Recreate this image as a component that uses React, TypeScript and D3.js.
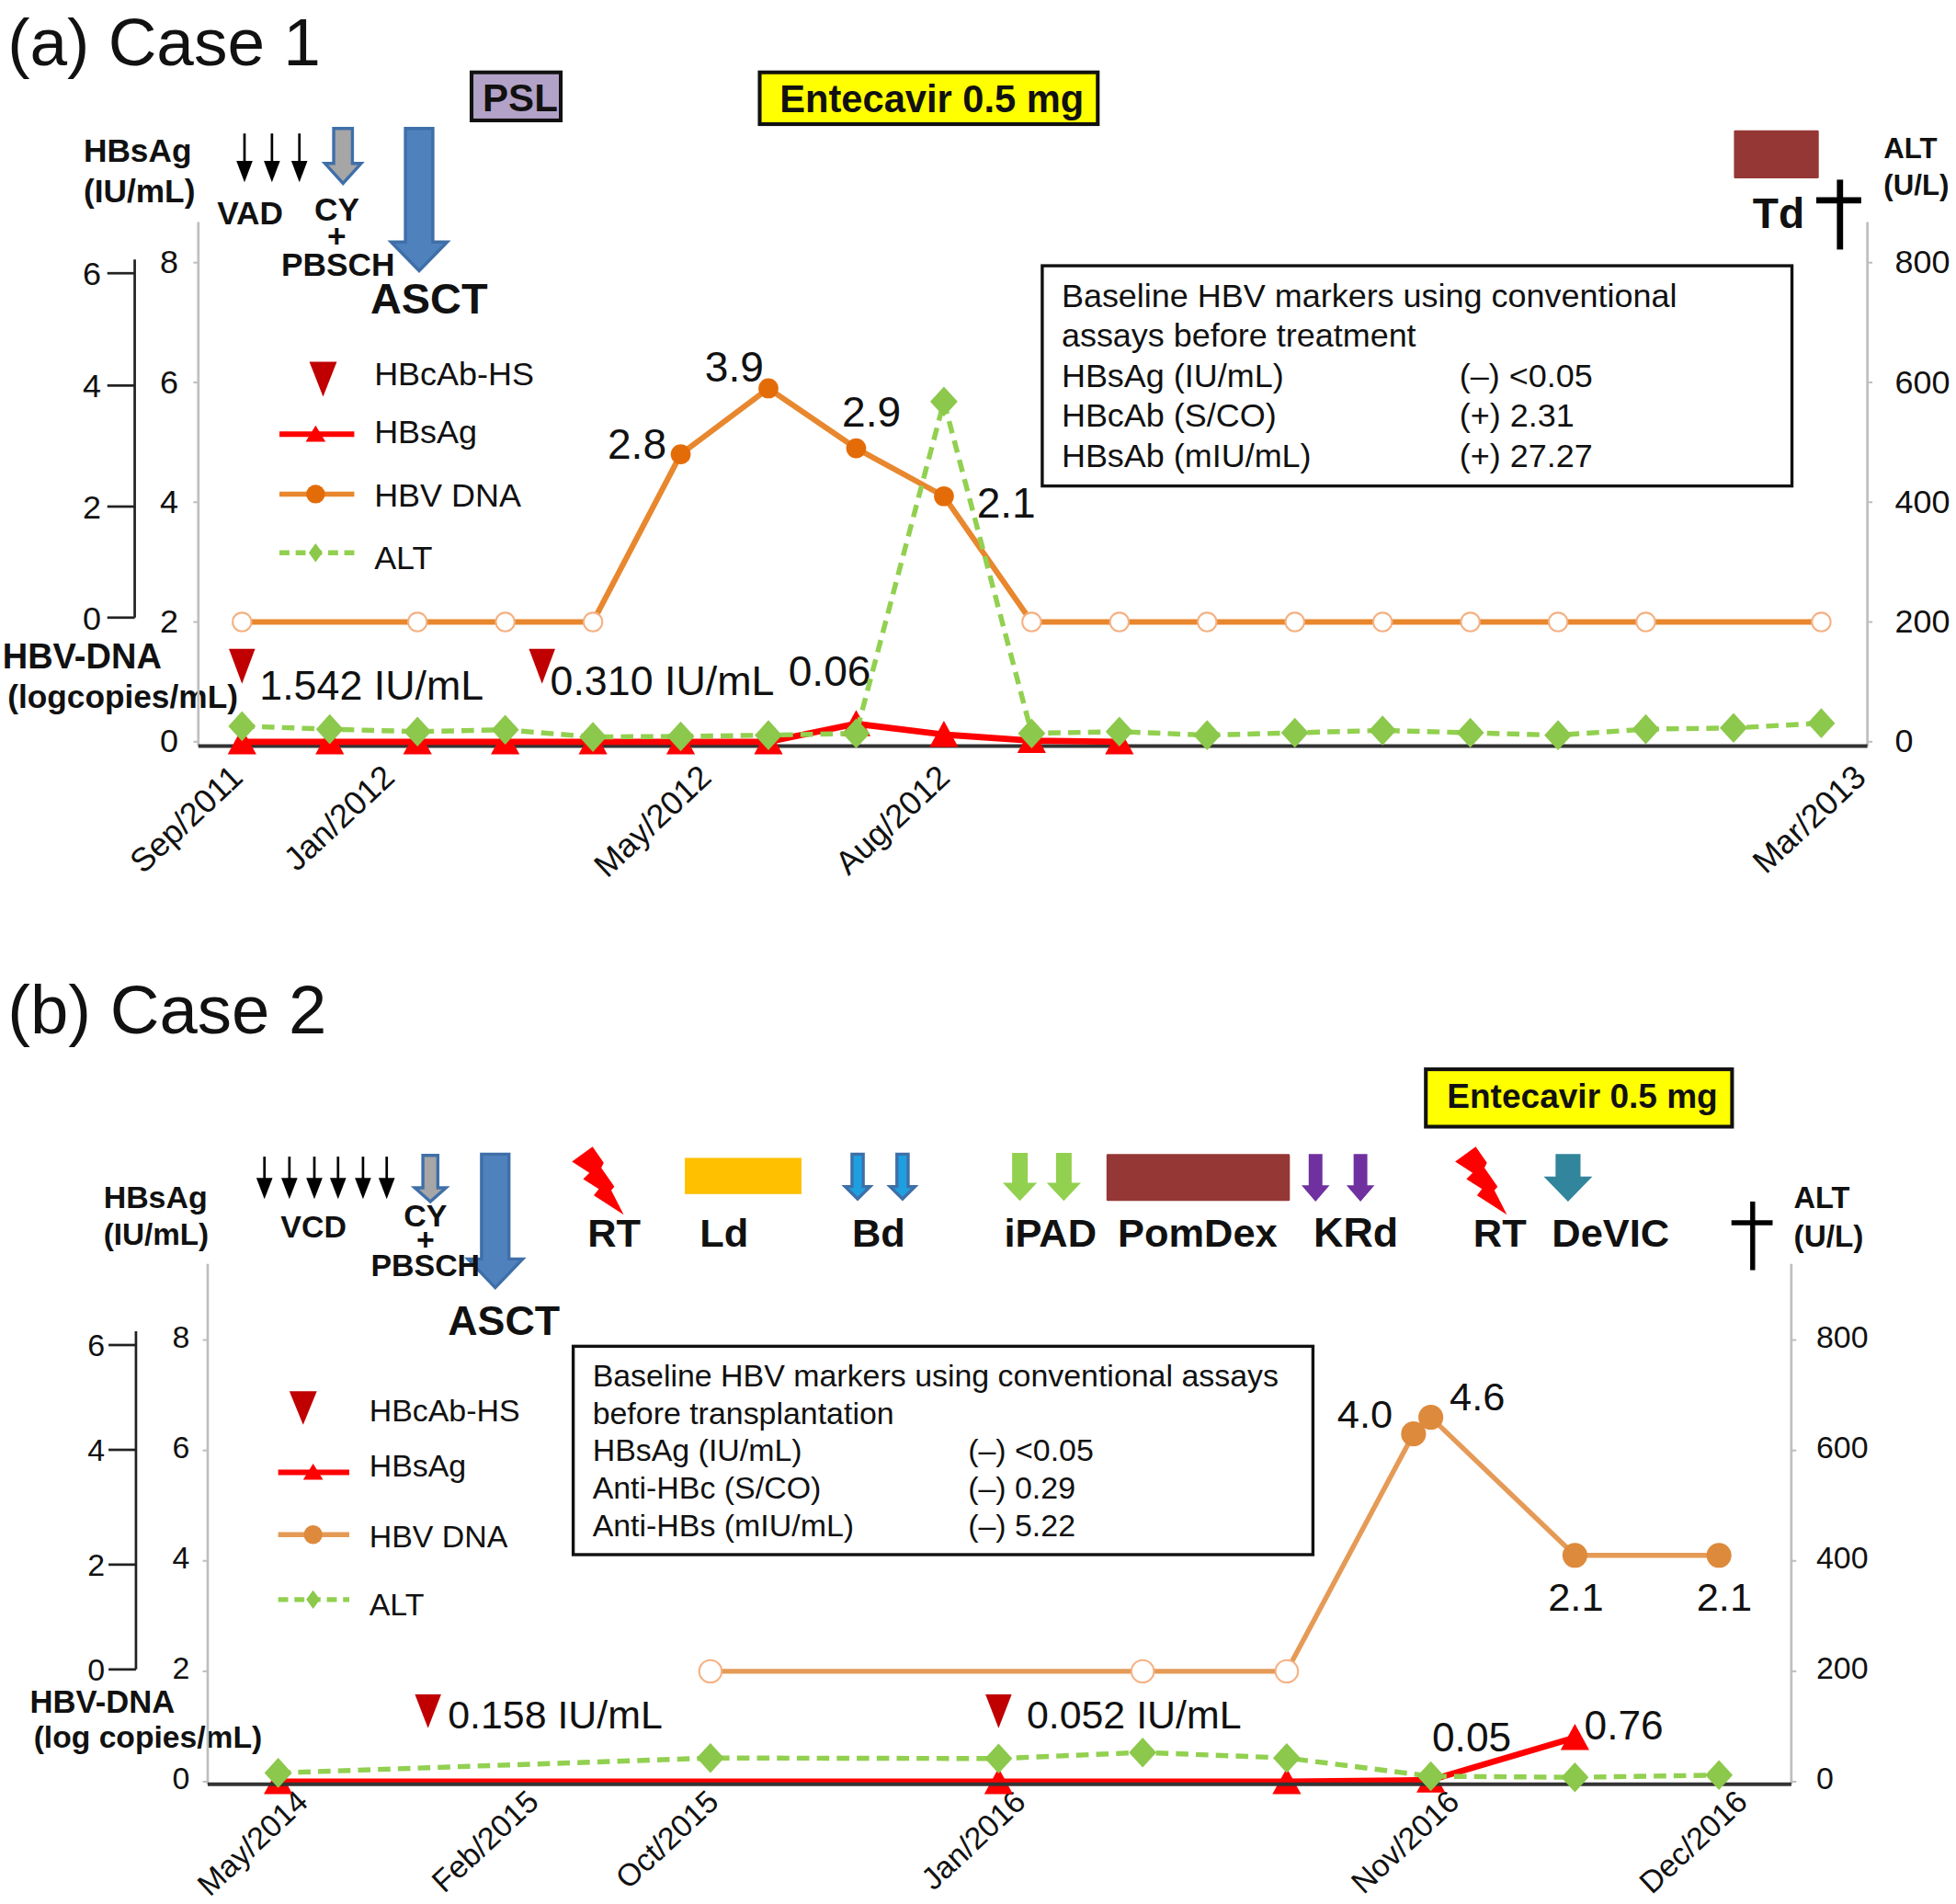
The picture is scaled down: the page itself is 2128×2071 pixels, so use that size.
import React from 'react';
import * as d3 from 'd3';

// visit index -> value
const visitsA = d3.range(19);
const dnaA = [2, null, 2, 2, 2, 4.8, 5.9, 4.9, 4.1, 2, 2, 2, 2, 2, 2, 2, 2, null, 2];
const altA = [26, 21, 17, 20, 8, 9, 11, 14, 568, 14, 17, 11, 15, 19, 15, 11, 21, 23, 31];
// HBsAg has no axis of its own in the plot, height read against the DNA axis
const hbsAgA = [0, 0, 0, 0, 0, 0, 0, 0.3, 0.12, 0.02, 0];
const hbcAbA = [0, 3.42];
const dateLabelsA = ['Sep/2011', 'Jan/2012', 'May/2012', 'Aug/2012', 'Mar/2013'];
const datePosA = [0.03, 1.76, 5.37, 8.09, 18.53];

const dnaVisitsB = [3, 6, 7, 7.88, 8, 9, 10];
const dnaB = [2, 2, 2, 6.3, 6.6, 4.1, 4.1];
const altVisitsB = [0, 3, 5, 6, 7, 8, 9, 10];
const altB = [16, 43, 42, 53, 43, 10, 8, 12];
const hbsAgVisitsB = [0, 5, 7, 8, 9];
const hbsAgB = [0, 0, 0, 0.03, 0.8];
const hbcAbB = [1.04, 5];
const dateLabelsB = ['May/2014', 'Feb/2015', 'Oct/2015', 'Jan/2016', 'Nov/2016', 'Dec/2016'];
const datePosB = [0.22, 1.82, 3.07, 5.2, 8.21, 10.21];

const dnaTicks = [0, 2, 4, 6, 8];
const antigenTicks = [0, 2, 4, 6];
const altTicks = [0, 200, 400, 600, 800];

const infoA = [
  ['Baseline HBV markers using conventional', ''],
  ['assays before treatment', ''],
  ['HBsAg (IU/mL)', '(–) <0.05'],
  ['HBcAb (S/CO)', '(+) 2.31'],
  ['HBsAb (mIU/mL)', '(+) 27.27'],
];
const infoB = [
  ['Baseline HBV markers using conventional assays', ''],
  ['before transplantation', ''],
  ['HBsAg (IU/mL)', '(–) <0.05'],
  ['Anti-HBc (S/CO)', '(–) 0.29'],
  ['Anti-HBs (mIU/mL)', '(–) 5.22'],
];

const FONT = '"Liberation Sans", Arial, sans-serif';
const RED = '#FF0000';
const DARK_RED = '#C00000';
const GREEN = '#92D050';
const DIAMOND = '#8CC84B';
const AXIS_GREY = '#BFBFBF';
const BLUE_EDGE = '#3F6FA8';

type Anchor = 'start' | 'middle' | 'end';

const T = ({ x, y, s, size = 26, bold = false, anchor = 'start' as Anchor, fill = '#111' }: any) => (
  <text x={x} y={y} fontSize={size} fontWeight={bold ? 700 : 400} textAnchor={anchor} fill={fill} fontFamily={FONT}>
    {s}
  </text>
);

// block arrow pointing down
const blockArrow = (cx: number, top: number, bottom: number, stem: number, head: number, neck: number) =>
  `M${cx - stem / 2},${top}H${cx + stem / 2}V${neck}H${cx + head / 2}L${cx},${bottom}L${cx - head / 2},${neck}H${cx - stem / 2}Z`;

const BlockArrow = ({ cx, top, bottom, stem, head, neck, fill, edge }: any) => (
  <path d={blockArrow(cx, top, bottom, stem, head, neck)} fill={fill} stroke={edge || fill} strokeWidth={edge ? 2.5 : 0} />
);

const ThinArrow = ({ cx, top, bottom }: any) => (
  <g>
    <line x1={cx} x2={cx} y1={top} y2={bottom - 12} stroke="#000" strokeWidth={2} />
    <path d={`M${cx - 6.5},${bottom - 17}L${cx},${bottom}L${cx + 6.5},${bottom - 17}Z`} fill="#000" />
  </g>
);

const Cross = ({ x, top, bottom, y, left, right, w = 5 }: any) => (
  <g stroke="#000" strokeWidth={w}>
    <line x1={x} x2={x} y1={top} y2={bottom} />
    <line x1={left} x2={right} y1={y} y2={y} />
  </g>
);

const boltShape: [number, number][] = [
  [475, 919], [458.5, 931], [472.5, 940], [467.5, 945], [480, 953], [476, 958], [500, 973.5],
  [490, 954], [492.5, 951], [482, 936], [484, 932],
];
const Bolt = ({ dx = 0 }: any) => (
  <polygon points={boltShape.map(([x, y]) => `${x + dx},${y}`).join(' ')} fill={RED} />
);

const triUp = (x: number, y: number, w: number) => `M${x - w / 2},${y + 10}L${x},${y - 11}L${x + w / 2},${y + 10}Z`;
const diamond = (x: number, y: number, w: number, h: number) =>
  `M${x},${y - h / 2}L${x + w / 2},${y}L${x},${y + h / 2}L${x - w / 2},${y}Z`;
const triDown = (x: number, top: number, bottom: number, w: number) =>
  `M${x - w / 2},${top}H${x + w / 2}L${x},${bottom}Z`;

const Panel = ({
  x0, x1, axisLeft, axisRight, axisTop, y0, y8, baseY, outerX, outerTop, outerRange,
  stepStart, stepEnd, altVisits, alt, dnaVisits, dna, hbsVisits, hbs, hbcAb, hbcTop, hbcBottom,
  dates, datePos, dateY, info, box, infoStep, fontSize, dnaWidth, dnaColor, dotColor, dotR, openR, baselineOnTop,
  legend, labelEndInner, labelEndOuter, labelStartRight, labelShift,
}: any) => {
  const x = d3.scaleLinear().domain([stepStart, stepEnd]).range([x0, x1]);
  const y = d3.scaleLinear().domain([0, 8]).range([y0, y8]);
  const yAlt = d3.scaleLinear().domain([0, 800]).range([y0, y8]);
  // the hand-drawn outer axis is not quite evenly spaced
  const yOuter = d3.scaleLinear().domain(antigenTicks).range(outerRange);

  const dnaPts = dnaVisits.map((v: number, i: number) => [v, dna[i]]).filter((d: any) => d[1] != null);
  const altPts = altVisits.map((v: number, i: number) => [v, alt[i]]);
  const hbsPts = hbsVisits.map((v: number, i: number) => [v, hbs[i]]);

  const dnaLine = d3.line<any>().x((d) => x(d[0])).y((d) => y(d[1]));
  const altLine = d3.line<any>().x((d) => x(d[0])).y((d) => yAlt(d[1]));

  const baseline = <line x1={axisLeft} x2={axisRight} y1={baseY} y2={baseY} stroke="#333" strokeWidth={3} />;

  return (
    <g>
      {/* axes */}
      <line x1={axisLeft} x2={axisLeft} y1={axisTop} y2={baseY} stroke={AXIS_GREY} strokeWidth={2} />
      <line x1={axisRight} x2={axisRight} y1={axisTop} y2={baseY} stroke={AXIS_GREY} strokeWidth={2} />
      {dnaTicks.map((t) => (
        <g key={t}>
          <line x1={axisLeft - 4} x2={axisLeft} y1={y(t)} y2={y(t)} stroke={AXIS_GREY} strokeWidth={1.5} />
          <text x={labelEndInner} y={y(t) + labelShift} dy="0.36em" fontSize={fontSize} textAnchor="end" fill="#111" fontFamily={FONT}>{t}</text>
        </g>
      ))}
      {altTicks.map((t) => (
        <g key={t}>
          <line x1={axisRight} x2={axisRight + 4} y1={yAlt(t)} y2={yAlt(t)} stroke={AXIS_GREY} strokeWidth={1.5} />
          <text x={labelStartRight} y={yAlt(t) + labelShift} dy="0.36em" fontSize={fontSize} fill="#111" fontFamily={FONT}>{t}</text>
        </g>
      ))}
      <line x1={outerX} x2={outerX} y1={outerTop} y2={outerRange[0]} stroke="#222" strokeWidth={2} />
      {antigenTicks.map((t) => (
        <g key={t}>
          <line x1={outerX - 22} x2={outerX} y1={yOuter(t)} y2={yOuter(t)} stroke="#222" strokeWidth={2} />
          <text x={labelEndOuter} y={yOuter(t)} dy="0.36em" fontSize={fontSize} textAnchor="end" fill="#111" fontFamily={FONT}>{t}</text>
        </g>
      ))}

      {!baselineOnTop && baseline}

      {/* date labels */}
      {dates.map((d: string, i: number) => (
        <text
          key={d}
          transform={`translate(${x(datePos[i])},${dateY}) rotate(-43)`}
          fontSize={fontSize}
          textAnchor="end"
          fill="#111"
          fontFamily={FONT}
        >
          {d}
        </text>
      ))}

      {/* HBV DNA */}
      <path d={dnaLine(dnaPts) as string} fill="none" stroke={dnaColor} strokeWidth={dnaWidth} />
      {dnaPts.map((d: any) =>
        d[1] === 2 ? (
          <circle key={d[0]} cx={x(d[0])} cy={y(d[1])} r={openR} fill="#fff" stroke="#F4B183" strokeWidth={1.5} />
        ) : (
          <circle key={d[0]} cx={x(d[0])} cy={y(d[1])} r={dotR} fill={dotColor} />
        )
      )}

      {/* HBsAg */}
      <path d={dnaLine(hbsPts) as string} fill="none" stroke={RED} strokeWidth={5} />
      {hbsPts.map((d: any) => (
        <path key={d[0]} d={triUp(x(d[0]), y(d[1]), 23)} fill={RED} />
      ))}

      {baselineOnTop && baseline}

      {/* ALT */}
      <path d={altLine(altPts) as string} fill="none" stroke={GREEN} strokeWidth={4} strokeDasharray="10 6" />
      {altPts.map((d: any) => (
        <path key={d[0]} d={diamond(x(d[0]), yAlt(d[1]), 22, 24)} fill={DIAMOND} />
      ))}

      {/* HBcAb-HS */}
      {hbcAb.map((v: number) => (
        <path key={v} d={triDown(x(v), hbcTop, hbcBottom, 21)} fill={DARK_RED} />
      ))}

      {/* legend */}
      <path d={triDown(legend.triX, legend.triTop, legend.triBottom, 22)} fill={DARK_RED} />
      <T x={legend.textX} y={legend.y[0]} s="HBcAb-HS" size={legend.size} />
      <line x1={legend.lineL} x2={legend.lineR} y1={legend.lineY[0]} y2={legend.lineY[0]} stroke={RED} strokeWidth={4.5} />
      <path d={`M${legend.mark - 8},${legend.lineY[0] + 6}L${legend.mark},${legend.lineY[0] - 7}L${legend.mark + 8},${legend.lineY[0] + 6}Z`} fill={RED} />
      <T x={legend.textX} y={legend.y[1]} s="HBsAg" size={legend.size} />
      <line x1={legend.lineL} x2={legend.lineR} y1={legend.lineY[1]} y2={legend.lineY[1]} stroke={dnaColor} strokeWidth={4} />
      <circle cx={legend.mark} cy={legend.lineY[1]} r={7.5} fill={dotColor} />
      <T x={legend.textX} y={legend.y[2]} s="HBV DNA" size={legend.size} />
      <line x1={legend.lineL} x2={legend.lineR} y1={legend.lineY[2]} y2={legend.lineY[2]} stroke={GREEN} strokeWidth={4} strokeDasharray="8 5" />
      <path d={diamond(legend.mark, legend.lineY[2], 11, 15)} fill={DIAMOND} />
      <T x={legend.textX} y={legend.y[3]} s="ALT" size={legend.size} />

      {/* baseline marker box */}
      <rect x={box.x} y={box.y} width={box.w} height={box.h} fill="#fff" stroke="#111" strokeWidth={2.5} />
      {info.map((row: string[], i: number) => (
        <g key={row[0]}>
          <T x={box.textX} y={box.firstY + i * infoStep} s={row[0]} size={box.size} />
          {row[1] && <T x={box.colX} y={box.firstY + i * infoStep} s={row[1]} size={box.size} />}
        </g>
      ))}
    </g>
  );
};

export default function App() {
  return (
    <svg
      width={2128}
      height={2071}
      viewBox="0 0 1568 1526"
      style={{ position: 'absolute', left: 0, top: 0, background: '#fff' }}
    >
      {/* (a) Case 1 */}
      <T x={6} y={52} s="(a) Case 1" size={53.8} />
      <rect x={378} y={58} width={71.5} height={38.5} fill="#B3A2C7" stroke="#111" strokeWidth={3} />
      <T x={417} y={89} s="PSL" size={31} bold anchor="middle" />
      <rect x={609} y={58} width={271} height={41.5} fill="#FFFF00" stroke="#111" strokeWidth={3} />
      <T x={625} y={90} s="Entecavir 0.5 mg" size={30.7} bold />

      <T x={67} y={130} s="HBsAg" size={26} bold />
      <T x={67} y={162} s="(IU/mL)" size={26} bold />
      {[196, 218, 240].map((cx) => <ThinArrow key={cx} cx={cx} top={107} bottom={146} />)}
      <BlockArrow cx={275} top={103} bottom={147} stem={15} head={29} neck={131} fill="#A6A6A6" edge={BLUE_EDGE} />
      <BlockArrow cx={336} top={103} bottom={217} stem={22} head={45} neck={194} fill="#4F81BD" edge={BLUE_EDGE} />
      <T x={174} y={180} s="VAD" size={26} bold />
      <T x={270} y={177} s="CY" size={26} bold anchor="middle" />
      <T x={270} y={198} s="+" size={26} bold anchor="middle" />
      <T x={271} y={221} s="PBSCH" size={26} bold anchor="middle" />
      <T x={297} y={251} s="ASCT" size={34.5} bold />

      <rect x={1390} y={104.5} width={68} height={38.5} rx={1} fill="#953735" />
      <T x={1405} y={183} s="Td" size={34} bold />
      <Cross x={1475} top={144} bottom={200} y={160.5} left={1456} right={1492} />
      <T x={1510} y={127} s="ALT" size={23} bold />
      <T x={1510} y={156} s="(U/L)" size={23} bold />

      <T x={487} y={368} s="2.8" size={34} />
      <T x={565} y={306} s="3.9" size={34} />
      <T x={675} y={342} s="2.9" size={34} />
      <T x={783} y={415} s="2.1" size={34} />
      <T x={208} y={561} s="1.542 IU/mL" size={33} />
      <T x={441} y={557} s="0.310 IU/mL" size={33} />
      <T x={632} y={550} s="0.06" size={34} />
      <T x={2} y={536} s="HBV-DNA" size={28} bold />
      <T x={6} y={567} s="(logcopies/mL)" size={26} bold />

      <Panel
        x0={194} x1={1460} stepStart={0} stepEnd={18}
        axisLeft={159} axisRight={1497} axisTop={178} y0={594.5} y8={210.5} baseY={598}
        outerX={108} outerTop={208} outerRange={[495, 406, 309, 219]}
        altVisits={visitsA} alt={altA} dnaVisits={visitsA} dna={dnaA}
        hbsVisits={visitsA.slice(0, hbsAgA.length)} hbs={hbsAgA}
        hbcAb={hbcAbA} hbcTop={520} hbcBottom={548}
        dates={dateLabelsA} datePos={datePosA} dateY={625}
        info={infoA} infoStep={32} fontSize={26.5} labelShift={-1}
        box={{ x: 835.5, y: 213, w: 601, h: 176.5, textX: 851, colX: 1170, firstY: 246, size: 26.5 }}
        dnaWidth={4.5} dnaColor="#E8872E" dotColor="#E36C09" dotR={8} openR={7.5}
        legend={{
          triX: 259, triTop: 290, triBottom: 318, textX: 300, y: [309, 355, 406, 456], size: 26.5,
          lineL: 224, lineR: 284, lineY: [348, 396, 443], mark: 253,
        }}
        labelEndInner={143} labelEndOuter={81} labelStartRight={1519}
      />

      {/* (b) Case 2 */}
      <T x={6} y={828} s="(b) Case 2" size={54.8} />
      <rect x={1143} y={857} width={245.5} height={46} fill="#FFFF00" stroke="#111" strokeWidth={3} />
      <T x={1160} y={888} s="Entecavir 0.5 mg" size={27.3} bold />

      <T x={83} y={968} s="HBsAg" size={25} bold />
      <T x={83} y={998} s="(IU/mL)" size={24.5} bold />
      {[212, 232, 252, 271, 291, 310].map((cx) => <ThinArrow key={cx} cx={cx} top={927} bottom={961} />)}
      <BlockArrow cx={345} top={926} bottom={963} stem={12} head={25} neck={952} fill="#A6A6A6" edge={BLUE_EDGE} />
      <BlockArrow cx={397} top={925} bottom={1032} stem={22} head={44} neck={1009} fill="#4F81BD" edge={BLUE_EDGE} />
      <T x={225} y={992} s="VCD" size={25} bold />
      <T x={341} y={983} s="CY" size={25} bold anchor="middle" />
      <T x={341} y={1002} s="+" size={25} bold anchor="middle" />
      <T x={341} y={1023} s="PBSCH" size={25} bold anchor="middle" />
      <T x={359} y={1070} s="ASCT" size={33} bold />

      <Bolt />
      <Bolt dx={708} />
      <rect x={549} y={928} width={93.5} height={29} fill="#FFC000" />
      {[687.5, 723.5].map((cx) => (
        <BlockArrow key={cx} cx={cx} top={925} bottom={961} stem={9} head={20} neck={951} fill="#1E9FE0" edge={BLUE_EDGE} />
      ))}
      {[817.6, 852.8].map((cx) => (
        <BlockArrow key={cx} cx={cx} top={924} bottom={962.5} stem={12.5} head={27.5} neck={948} fill="#92D050" />
      ))}
      <rect x={887} y={925} width={147} height={37.5} rx={1} fill="#953735" />
      {[1054.6, 1090.6].map((cx) => (
        <BlockArrow key={cx} cx={cx} top={925} bottom={963} stem={11} head={22.5} neck={950} fill="#7030A0" />
      ))}
      <BlockArrow cx={1257} top={925} bottom={963} stem={20} head={39} neck={943} fill="#31859C" />
      <T x={471} y={999} s="RT" size={32} bold />
      <T x={561} y={999} s="Ld" size={32} bold />
      <T x={683} y={999} s="Bd" size={32} bold />
      <T x={805} y={999} s="iPAD" size={32} bold />
      <T x={896} y={999} s="PomDex" size={32} bold />
      <T x={1053} y={999} s="KRd" size={33} bold />
      <T x={1181} y={999} s="RT" size={32} bold />
      <T x={1244} y={999} s="DeVIC" size={32} bold />
      <Cross x={1405} top={963} bottom={1018} y={980} left={1388} right={1421} w={4} />
      <T x={1438} y={968} s="ALT" size={24} bold />
      <T x={1438} y={999} s="(U/L)" size={24.5} bold />

      <T x={1072} y={1144} s="4.0" size={32} />
      <T x={1162} y={1130} s="4.6" size={32} />
      <T x={1241} y={1291} s="2.1" size={32} />
      <T x={1360} y={1291} s="2.1" size={32} />
      <T x={359} y={1385} s="0.158 IU/mL" size={31.6} />
      <T x={823} y={1385} s="0.052 IU/mL" size={31.6} />
      <T x={1148} y={1404} s="0.05" size={32.6} />
      <T x={1270} y={1394} s="0.76" size={32.6} />
      <T x={24} y={1373} s="HBV-DNA" size={25.5} bold />
      <T x={27} y={1401} s="(log copies/mL)" size={24.8} bold />

      <Panel
        x0={223} x1={1378} stepStart={0} stepEnd={10}
        axisLeft={166.5} axisRight={1436} axisTop={1013} y0={1428} y8={1074} baseY={1430}
        outerX={109} outerTop={1067} outerRange={[1338, 1254, 1162, 1078]}
        altVisits={altVisitsB} alt={altB} dnaVisits={dnaVisitsB} dna={dnaB}
        hbsVisits={hbsAgVisitsB} hbs={hbsAgB}
        hbcAb={hbcAbB} hbcTop={1358} hbcBottom={1385}
        dates={dateLabelsB} datePos={datePosB} dateY={1446}
        info={infoB} infoStep={30} fontSize={25} baselineOnTop labelShift={-3}
        box={{ x: 459.5, y: 1079, w: 593, h: 167, textX: 475, colX: 776, firstY: 1111, size: 25 }}
        dnaWidth={4} dnaColor="#E59A56" dotColor="#DD8A3C" dotR={10} openR={9}
        legend={{
          triX: 243, triTop: 1115, triBottom: 1142, textX: 296, y: [1139, 1183, 1240, 1295], size: 25,
          lineL: 223, lineR: 280, lineY: [1180, 1230, 1282], mark: 251,
        }}
        labelEndInner={152} labelEndOuter={84} labelStartRight={1456}
      />
    </svg>
  );
}
